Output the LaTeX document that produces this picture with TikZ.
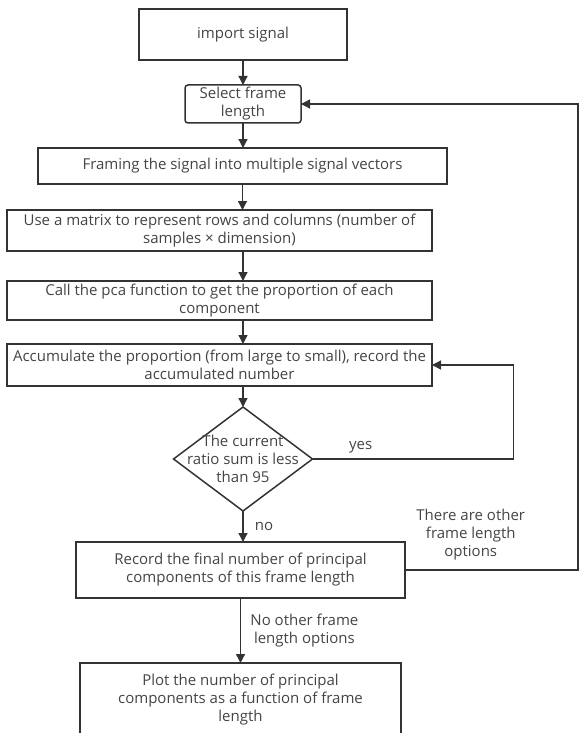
\documentclass[tikz,border=0pt]{standalone}
\usepackage{fontspec}
\setmainfont{Open Sans}
\usetikzlibrary{calc,positioning,arrows.meta,shapes.geometric}

\definecolor{linegray}{HTML}{333333}
\definecolor{textgray}{HTML}{444444}

\tikzset{
  box/.style={draw=linegray, line width=1.5pt, align=center, text=textgray, inner sep=0pt, outer sep=0pt},
  decision/.style={draw=linegray, line width=1.5pt, diamond, inner sep=0pt, outer sep=0pt, minimum width=139pt, minimum height=104pt},
  flow/.style={draw=linegray, line width=1.3pt, ->},
  lbl/.style={text=textgray, align=center}
}

\begin{document}
\begin{tikzpicture}[node distance=25pt, >={Triangle[length=9pt,width=9pt]},
    font=\fontsize{15pt}{18pt}\selectfont]
	\useasboundingbox (0,0) rectangle (580pt,-733pt);

	\node[box, minimum width=208pt, minimum height=51pt] (import) at (243pt,-34.5pt) {import signal};
	\node[box, rounded corners=3pt, below=25pt of import, minimum width=116pt, minimum height=38pt] (select) {Select frame\\length};
	\node[box, below=25pt of select, xshift=-0.5pt, minimum width=409pt, minimum height=36pt] (framing) {Framing the signal into multiple signal vectors};
	\node[box, below=26pt of framing, xshift=-23pt, minimum width=425pt, minimum height=41pt] (matrix) {Use a matrix to represent rows and columns (number of\\samples × dimension)};
	\node[box, below=30pt of matrix, minimum width=425pt, minimum height=39pt] (pca) {Call the pca function to get the proportion of each\\component};
	\node[box, below=24pt of pca, minimum width=425pt, minimum height=42pt] (accum) {Accumulate the proportion (from large to small), record the\\accumulated number};
	\node[decision, below=21pt of accum, xshift=23.5pt,
	  label={[lbl]center:The current\\ratio sum is less\\than 95}] (check) {};
	\node[box, below=31pt of check, xshift=-2.5pt, minimum width=329pt, minimum height=56pt] (record) {Record the final number of principal\\components of this frame length};
	\node[box, below=65pt of record, minimum width=321pt, minimum height=74pt] (plot) {Plot the number of principal\\components as a function of frame\\length};

	% main chain
	\draw[flow] (import) -- (select);
	\draw[flow] (select) -- (select |- framing.north);
	\draw[flow] (framing.south) -- (framing.south |- matrix.north);
	\draw[flow] (check.north |- matrix.south) -- (check.north |- pca.north);
	\draw[flow] (check.north |- pca.south) -- (check.north |- accum.north);
	\draw[flow] (check.north |- accum.south) -- (check.north);
	\draw[flow] (check.south) -- node[lbl, right, xshift=8pt]{no} (check.south |- record.north);
	\draw[flow] (record) -- node[lbl, right, xshift=6pt]{No other frame\\length options} (plot);

	% yes loop back to accumulate
	\coordinate (yesturn) at ($(check.east)+(201pt,0)$);
	\draw[flow] (check.east) -- node[lbl, above, pos=0.24, yshift=2pt]{yes} (yesturn) |- (accum.east);

	% other frame lengths back to select
	\coordinate (otherturn) at ($(record.east)+(173pt,0)$);
	\draw[flow] (record.east) -- node[lbl, above, pos=0.38, yshift=6pt]{There are other\\frame length\\options} (otherturn) |- (select.east);
\end{tikzpicture}
\end{document}
